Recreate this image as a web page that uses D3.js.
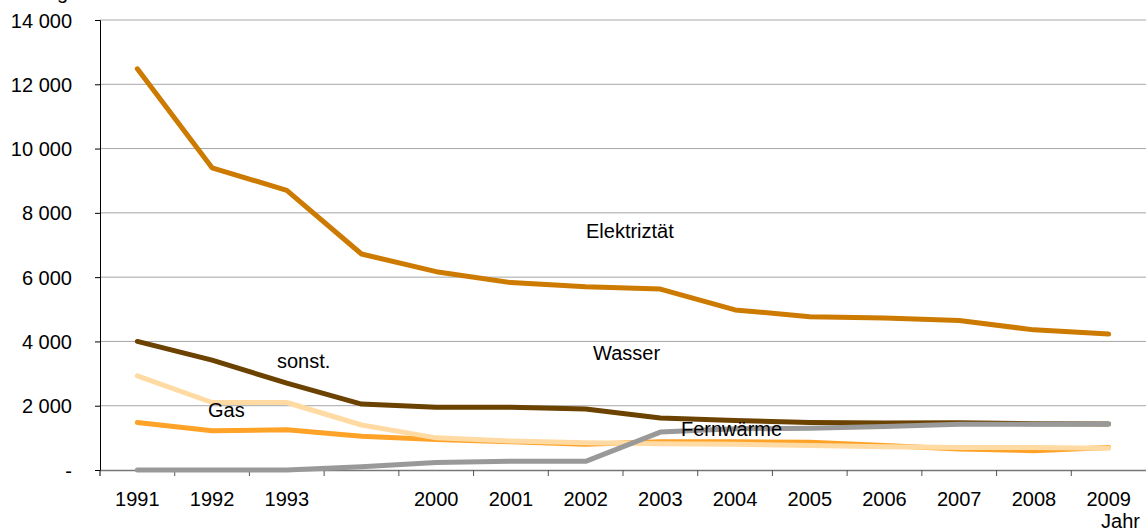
<!DOCTYPE html>
<html>
<head>
<meta charset="utf-8">
<script src="https://cdn.jsdelivr.net/npm/d3@7"></script>
<style>
  body { margin: 0; background: #fff; }
  svg text { font-family: "Liberation Sans", Arial, sans-serif; fill: #000; }
</style>
</head>
<body>
<div id="chart"></div>
<script>
// categories (the 4th one has no label in the source chart)
const years = ["1991", "1992", "1993", "", "2000", "2001", "2002", "2003", "2004", "2005", "2006", "2007", "2008", "2009"];

const elektrizitaet = [12480, 9400, 8700, 6720, 6170, 5830, 5700, 5630, 4980, 4770, 4730, 4650, 4360, 4230];
const sonst = [4000, 3420, 2700, 2050, 1950, 1950, 1900, 1620, 1540, 1480, 1460, 1470, 1440, 1430];
const gas = [1480, 1220, 1250, 1050, 950, 880, 800, 880, 880, 860, 760, 650, 600, 700];
const wasser = [2930, 2100, 2100, 1400, 1000, 900, 850, 820, 800, 760, 720, 700, 700, 680];
const fernwaerme = [0, 0, 0, 100, 230, 270, 270, 1180, 1280, 1300, 1350, 1420, 1420, 1430];

const yTicks = [0, 2000, 4000, 6000, 8000, 10000, 12000, 14000];

const series = [
    { name: "Elektrizität", values: elektrizitaet, color: "#cc7a00" },
    { name: "sonst.", values: sonst, color: "#6b4200" },
    { name: "Gas", values: gas, color: "#ffa328" },
    { name: "Wasser", values: wasser, color: "#ffdaa3" },
    { name: "Fernwärme", values: fernwaerme, color: "#999999" }
];

const labels = [
    { text: "Elektriztät", x: 586, y: 238 },
    { text: "Wasser", x: 593, y: 360 },
    { text: "sonst.", x: 277, y: 368 },
    { text: "Gas", x: 208, y: 417 },
    { text: "Fernwärme", x: 681, y: 436 }
];

const width = 1146, height = 531;
const margin = { top: 20, right: 0, bottom: 61, left: 100 };

const svg = d3.select("#chart").append("svg")
    .attr("width", width)
    .attr("height", height);

const x = d3.scaleBand()
    .domain(d3.range(years.length))
    .range([margin.left, width - margin.right])
    .padding(0);

const y = d3.scaleLinear()
    .domain([0, 14000])
    .range([height - margin.bottom, margin.top]);

const fmt = v => v === 0 ? "-" : d3.format(",")(v).replace(/,/g, " ");

// gridlines
svg.append("g")
    .selectAll("line")
    .data(yTicks.filter(d => d > 0))
    .join("line")
    .attr("x1", margin.left)
    .attr("x2", width)
    .attr("y1", d => y(d))
    .attr("y2", d => y(d))
    .attr("stroke", "#a6a6a6")
    .attr("stroke-width", 1);

// y axis
const yAxis = svg.append("g")
    .attr("transform", `translate(${margin.left},0)`)
    .call(d3.axisLeft(y).tickValues(yTicks).tickFormat(fmt).tickSize(5).tickPadding(23));
yAxis.select(".domain").attr("stroke", "#000");
yAxis.selectAll(".tick line").attr("stroke", "#000");
yAxis.selectAll("text")
    .style("font-size", "20px")
    .attr("dy", "0.35em");

// x axis
const xAxis = svg.append("g")
    .attr("transform", `translate(0,${y(0)})`)
    .call(d3.axisBottom(x).tickFormat(i => years[i]).tickSize(0).tickPadding(22));
xAxis.select(".domain").attr("stroke", "#777").attr("stroke-width", 1.5);
xAxis.selectAll("text").style("font-size", "20px");

// tick marks on the category boundaries
svg.append("g")
    .selectAll("line")
    .data(d3.range(years.length))
    .join("line")
    .attr("x1", i => x(i))
    .attr("x2", i => x(i))
    .attr("y1", y(0))
    .attr("y2", y(0) + 6)
    .attr("stroke", i => i === 0 ? "#000" : "#555")
    .attr("stroke-width", 1);

svg.append("text")
    .attr("x", width - 6)
    .attr("y", 528)
    .attr("text-anchor", "end")
    .style("font-size", "20px")
    .text("Jahr");

// unit label (cut off at the top in the original)
svg.append("text")
    .attr("x", 68)
    .attr("y", -1)
    .attr("text-anchor", "end")
    .style("font-size", "20px")
    .text("kg");

// lines
const line = d3.line()
    .x((d, i) => x(i) + x.bandwidth() / 2)
    .y(d => y(d));

svg.append("g")
    .selectAll("path")
    .data(series)
    .join("path")
    .attr("d", d => line(d.values))
    .attr("fill", "none")
    .attr("stroke", d => d.color)
    .attr("stroke-width", 5)
    .attr("stroke-linejoin", "round")
    .attr("stroke-linecap", "round");

// series labels
svg.append("g")
    .selectAll("text")
    .data(labels)
    .join("text")
    .attr("x", d => d.x)
    .attr("y", d => d.y)
    .style("font-size", "20px")
    .text(d => d.text);
</script>
</body>
</html>
